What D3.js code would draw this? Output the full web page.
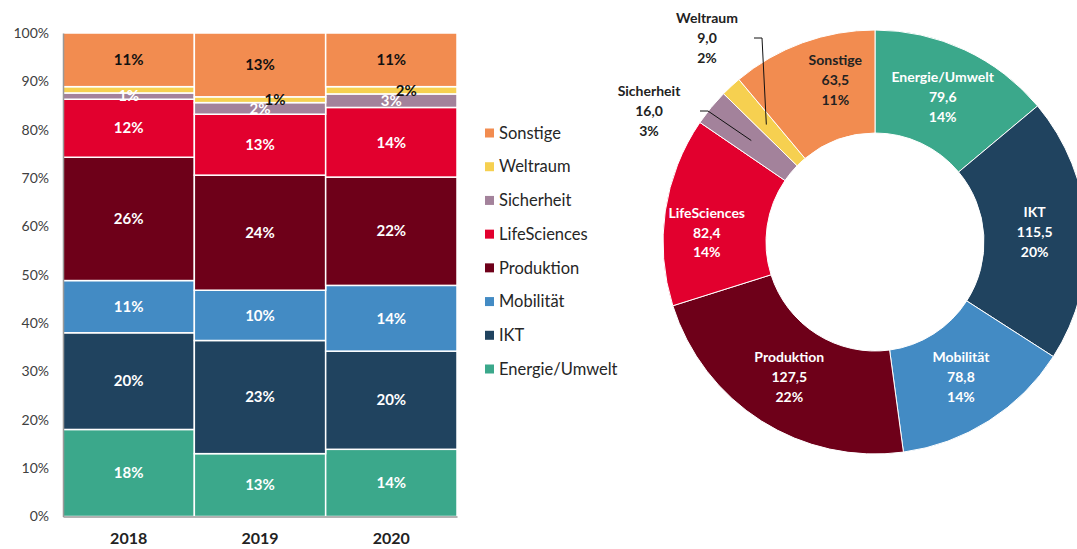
<!DOCTYPE html>
<html><head><meta charset="utf-8">
<script src="https://cdn.jsdelivr.net/npm/d3@7"></script>
<style>
html,body{margin:0;padding:0;background:#fff;}
svg{display:block;font-family:Lato,"Open Sans",sans-serif;}
</style></head>
<body>
<svg id="c" width="1077" height="549"></svg>
<script>
// ---- data ----
const categories = ["Energie/Umwelt","IKT","Mobilität","Produktion","LifeSciences","Sicherheit","Weltraum","Sonstige"];
const colors = ["#3BA88B","#20435F","#438BC4","#6E0019","#E2002E","#A3829B","#F6D050","#F28C50"];
const years = ["2018","2019","2020"];
const share2018 = [18.0, 20.0, 10.8, 25.5, 12.0, 1.3, 1.3, 11.1];
const share2019 = [13.0, 23.4, 10.4, 23.8, 12.6, 2.4, 1.2, 13.2];
const share2020 = [13.9, 20.3, 13.6, 22.4, 14.4, 2.8, 1.5, 11.1];
const yTicks = [0,10,20,30,40,50,60,70,80,90,100];
const donutValues = [79.6, 115.5, 78.8, 127.5, 82.4, 16.0, 9.0, 63.5];
const darkLabelCats = ["Weltraum","Sonstige"];
const hiddenBarLabels = [["2018","Weltraum"]];

const svg = d3.select("#c");
const shares = [share2018, share2019, share2020];

// ---- stacked bar chart ----
const x = d3.scaleBand().domain(years).range([63, 457]).padding(0);
const y = d3.scaleLinear().domain([0, 100]).range([516.5, 33]);

const rows = years.map((yr, i) => {
  const o = {year: yr};
  categories.forEach((c, j) => o[c] = shares[i][j]);
  return o;
});
const stack = d3.stack().keys(categories)(rows);

const g = svg.append("g");
stack.forEach((layer, li) => {
  g.selectAll(null).data(layer).join("rect")
    .attr("x", d => x(d.data.year))
    .attr("width", x.bandwidth())
    .attr("y", d => y(d[1]))
    .attr("height", d => y(d[0]) - y(d[1]))
    .attr("fill", colors[li])
    .attr("stroke", "#fff").attr("stroke-width", 1.5);
});
stack.forEach((layer, li) => {
  const cat = categories[li];
  const isW = cat === "Weltraum";
  g.selectAll(null).data(layer.filter(d => !hiddenBarLabels.some(h => h[0] === d.data.year && h[1] === cat)))
    .join("text")
    .attr("x", d => x(d.data.year) + x.bandwidth() / 2 + (isW ? 15 : 0))
    .attr("y", d => (y(d[0]) + y(d[1])) / 2)
    .attr("dy", "0.35em")
    .attr("text-anchor", "middle")
    .attr("font-size", 15).attr("font-weight", "bold")
    .attr("fill", darkLabelCats.includes(cat) ? "#111" : "#fff")
    .text(d => Math.round(d[1] - d[0]) + "%");
});

// axes
const yAxis = d3.axisLeft(y).tickValues(yTicks).tickFormat(d => d + "%").tickSize(0).tickPadding(14);
const ya = svg.append("g").attr("transform", "translate(63,0)").call(yAxis);
ya.select(".domain").attr("stroke", "#999").attr("stroke-width", 1.5);
ya.selectAll("text").attr("font-size", 14).attr("fill", "#404040").attr("font-family", "Lato, sans-serif");

const xAxis = d3.axisBottom(x).tickSize(0).tickPadding(16);
const xa = svg.append("g").attr("transform", "translate(0,516.5)").call(xAxis);
xa.select(".domain").attr("stroke", "#999").attr("stroke-width", 1.5);
xa.selectAll("text").attr("font-size", 16).attr("font-weight", "bold").attr("fill", "#222").attr("font-family", "Lato, sans-serif");

// legend
const legendOrder = categories.slice().reverse();
const ly = d3.scalePoint().domain(legendOrder).range([133, 369]);
const lg = svg.append("g");
legendOrder.forEach(cat => {
  const ci = categories.indexOf(cat);
  lg.append("rect").attr("x", 485).attr("y", ly(cat) - 4.5).attr("width", 9).attr("height", 9).attr("fill", colors[ci]);
  lg.append("text").attr("x", 499).attr("y", ly(cat)).attr("dy", "0.35em")
    .attr("font-size", 16.5).attr("fill", "#262626").text(cat);
});

// ---- donut ----
const cx = 875, cy = 242, rIn = 109, rOut = 212, rLab = 160;
const total = d3.sum(donutValues);
const pie = d3.pie().sort(null).value(d => d.v);
const arcs = pie(categories.map((c, i) => ({c, v: donutValues[i], col: colors[i]})));
const arc = d3.arc().innerRadius(rIn).outerRadius(rOut);
const labArc = d3.arc().innerRadius(rLab).outerRadius(rLab);
const dg = svg.append("g").attr("transform", `translate(${cx},${cy})`);
dg.selectAll("path").data(arcs).join("path")
  .attr("d", arc).attr("fill", d => d.data.col).attr("stroke", "#fff").attr("stroke-width", 1);

const fmtVal = v => d3.format(".1f")(v).replace(".", ",");
const fmtPct = v => Math.round(v / total * 100) + "%";
// label layout adjustments (offsets from centroid) and outside labels
const insideShift = {"LifeSciences": [-10, 14], "Sonstige": [15, -12]};
const outside = {"Sicherheit": {lx: -226, ly: -131, ex: -175}, "Weltraum": {lx: -168, ly: -204, ex: -121}};

arcs.forEach(d => {
  const cat = d.data.c;
  const [px, py] = labArc.centroid(d);
  const dark = darkLabelCats.includes(cat);
  let tx, ty;
  if (outside[cat]) {
    const o = outside[cat];
    tx = o.lx; ty = o.ly;
    dg.append("path")
      .attr("d", d3.line()([[px, py], [o.ex + 8, o.ly], [o.ex, o.ly]]))
      .attr("fill", "none").attr("stroke", "#111").attr("stroke-width", 1);
  } else {
    const s = insideShift[cat] || [0, 0];
    tx = px + s[0]; ty = py + s[1];
  }
  const t = dg.append("text").attr("text-anchor", "middle")
    .attr("font-size", 14).attr("font-weight", "bold")
    .attr("fill", (dark || outside[cat]) ? "#222" : "#fff");
  [cat, fmtVal(d.data.v), fmtPct(d.data.v)].forEach((s, k) => {
    t.append("tspan").attr("x", tx).attr("y", ty + (k - 1) * 20).attr("dy", "0.35em").text(s);
  });
});
</script>
</body></html>
